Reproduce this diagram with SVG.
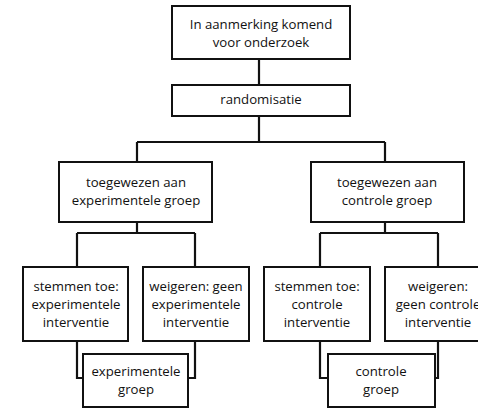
<svg xmlns="http://www.w3.org/2000/svg" width="478" height="408" viewBox="0 0 478 408">
<style>
.box{fill:#fff;stroke:#111;stroke-width:2}
.t{font-family:"Open Sans","Liberation Sans",sans-serif;font-size:13.2px;font-weight:500;fill:#111;text-anchor:middle;font-variant-ligatures:none}
.c{fill:none;stroke:#111;stroke-width:2.2}
</style>
<rect width="478" height="408" fill="#fff"/>
<g id="connectors">
<path class="c" d="M259 59V85M259 116V142M137 142H385M137 142V162M385 142V162"/>
<path class="c" d="M137 222V233M77 233H195M77 233V267M195 233V267"/>
<path class="c" d="M385 222V233M320 233H438M320 233V267M438 233V267"/>
<path class="c" d="M77 341V378H83M195 341V378H188"/>
<path class="c" d="M320 341V378H328M438 341V378H435"/>
</g>
<g id="n1"><rect class="box" x="172" y="6" width="178" height="53"/>
<text class="t" x="261" y="29">In aanmerking komend</text><text class="t" x="261" y="47">voor onderzoek</text></g>
<g id="n2"><rect class="box" x="172" y="85" width="178" height="31"/>
<text class="t" x="261" y="104">randomisatie</text></g>
<g id="n3"><rect class="box" x="59" y="162" width="153" height="60"/>
<text class="t" x="136" y="187">toegewezen aan</text><text class="t" x="136" y="205">experimentele groep</text></g>
<g id="n4"><rect class="box" x="311" y="162" width="153" height="60"/>
<text class="t" x="387" y="187">toegewezen aan</text><text class="t" x="387" y="205">controle groep</text></g>
<g id="n5"><rect class="box" x="23" y="267" width="105" height="74"/>
<text class="t" x="76" y="291">stemmen toe:</text><text class="t" x="76" y="309">experimentele</text><text class="t" x="76" y="327">interventie</text></g>
<g id="n6"><rect class="box" x="143" y="267" width="106" height="74"/>
<text class="t" x="196" y="291">weigeren: geen</text><text class="t" x="196" y="309">experimentele</text><text class="t" x="196" y="327">interventie</text></g>
<g id="n7"><rect class="box" x="264" y="267" width="106" height="74"/>
<text class="t" x="317" y="291">stemmen toe:</text><text class="t" x="317" y="309">controle</text><text class="t" x="317" y="327">interventie</text></g>
<g id="n8"><rect class="box" x="385" y="267" width="106" height="74"/>
<text class="t" x="438" y="291">weigeren:</text><text class="t" x="438" y="309">geen controle</text><text class="t" x="438" y="327">interventie</text></g>
<g id="n9"><rect class="box" x="83" y="354" width="105" height="53"/>
<text class="t" x="136" y="376">experimentele</text><text class="t" x="136" y="394">groep</text></g>
<g id="n10"><rect class="box" x="328" y="354" width="107" height="53"/>
<text class="t" x="381" y="376">controle</text><text class="t" x="381" y="394">groep</text></g>
</svg>
